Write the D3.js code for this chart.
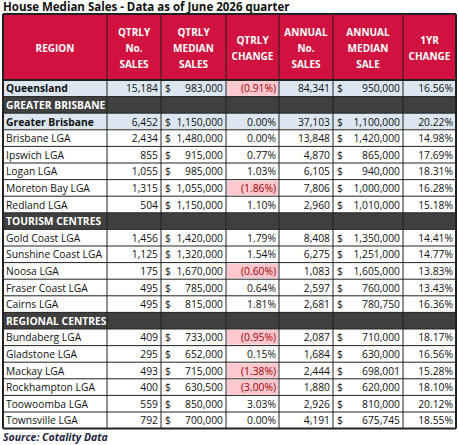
<!DOCTYPE html>
<html><head><meta charset="utf-8">
<script src="https://cdn.jsdelivr.net/npm/d3@7"></script>
<style>body{margin:0;background:#fff}</style></head>
<body><svg id="c" width="459" height="445"></svg>
<script>
const headers = [["REGION"],["QTRLY","No.","SALES"],["QTRLY","MEDIAN","SALES"],["QTRLY","CHANGE"],["ANNUAL","No.","SALES"],["ANNUAL","MEDIAN","SALE"],["1YR","CHANGE"]];
// type: t = total row, s = section header, r = regular
const regions = ["Queensland","GREATER BRISBANE","Greater Brisbane","Brisbane LGA","Ipswich LGA","Logan LGA","Moreton Bay LGA","Redland LGA","TOURISM CENTRES","Gold Coast LGA","Sunshine Coast LGA","Noosa LGA","Fraser Coast LGA","Cairns LGA","REGIONAL CENTRES","Bundaberg LGA","Gladstone LGA","Mackay LGA","Rockhampton LGA","Toowoomba LGA","Townsville LGA"];
const rowTypes = ["t","s","t","r","r","r","r","r","s","r","r","r","r","r","s","r","r","r","r","r","r"];
const qtrSales = [15184,null,6452,2434,855,1055,1315,504,null,1456,1125,175,495,495,null,409,295,493,400,559,792];
const qtrMedian = [983000,null,1150000,1480000,915000,985000,1055000,1150000,null,1420000,1320000,1670000,785000,815000,null,733000,652000,715000,630500,850000,700000];
const qtrChange = [-0.91,null,0.00,0.00,0.77,1.03,-1.86,1.10,null,1.79,1.54,-0.60,0.64,1.81,null,-0.95,0.15,-1.38,-3.00,3.03,0.00];
const annSales = [84341,null,37103,13848,4870,6105,7806,2960,null,8408,6275,1083,2597,2681,null,2087,1684,2444,1880,2926,4191];
const annMedian = [950000,null,1100000,1420000,865000,940000,1000000,1010000,null,1350000,1251000,1605000,760000,780750,null,710000,630000,698001,620000,810000,675745];
const yrChange = [16.56,null,20.22,14.98,17.69,18.31,16.28,15.18,null,14.41,14.77,13.83,13.43,16.36,null,18.17,16.56,15.28,18.10,20.12,18.55];

const svg = d3.select("#c");
const font = "'Open Sans', sans-serif";
const colEdges = [3,107,161,226,279,333,403,456];
const headTop = 14, headBot = 80, rowH = 16.6;
const y = d3.scaleLinear().domain([0,21]).range([headBot, headBot+21*rowH]);
const fmtN = d3.format(",");
const fmtP = v => v < 0 ? "(" + d3.format(".2f")(-v) + "%)" : d3.format(".2f")(v) + "%";

svg.append("text").attr("x",3).attr("y",11).attr("font-family",font).attr("font-weight","bold").attr("font-size",11.5).attr("fill","#111").text("House Median Sales - Data as of June 2026 quarter");

svg.append("rect").attr("x",3).attr("y",headTop).attr("width",453).attr("height",headBot-headTop).attr("fill","#d1113f");
headers.forEach((h,i)=>{
  const cx=(colEdges[i]+colEdges[i+1])/2, cy=(headTop+headBot)/2+1;
  h.forEach((l,j)=>{
    svg.append("text").attr("x",cx).attr("y",cy+(j-(h.length-1)/2)*16+4).attr("text-anchor","middle")
      .attr("font-family",font).attr("font-weight","bold").attr("font-size",10).attr("fill","#fff").text(l);
  });
});

regions.forEach((r,i)=>{
  const t=rowTypes[i], y0=y(i), y1=y(i+1), ty=(y0+y1)/2+4;
  const bg = t==="t"?"#dce6f1":t==="s"?"#404040":"#fff";
  svg.append("rect").attr("x",3).attr("y",y0).attr("width",453).attr("height",rowH).attr("fill",bg);
  svg.append("text").attr("x",colEdges[0]+3).attr("y",ty).attr("font-family",font).attr("font-size",10.3)
    .attr("font-weight",t==="r"?"normal":"bold").attr("fill",t==="s"?"#fff":"#111").text(r);
  if(t==="s") return;
  const txt=(ci,s,col="#111")=>svg.append("text").attr("x",colEdges[ci+1]-3).attr("y",ty).attr("text-anchor","end")
      .attr("font-family",font).attr("font-size",10.3).attr("fill",col).text(s);
  const dollar=(ci)=>svg.append("text").attr("x",colEdges[ci]+4).attr("y",ty).attr("font-family",font).attr("font-size",10.3).attr("fill","#111").text("$");
  txt(1,fmtN(qtrSales[i]));
  dollar(2); txt(2,fmtN(qtrMedian[i]));
  if(qtrChange[i]<0){
    svg.append("rect").attr("x",colEdges[3]+1).attr("y",y0+1).attr("width",colEdges[4]-colEdges[3]-2).attr("height",rowH-2).attr("fill","#ffc7ce");
    txt(3,fmtP(qtrChange[i]),"#9c0006");
  } else txt(3,fmtP(qtrChange[i]));
  txt(4,fmtN(annSales[i]));
  dollar(5); txt(5,fmtN(annMedian[i]));
  txt(6,fmtP(yrChange[i]));
});

const bottom=y(21);
colEdges.forEach((x,i)=>svg.append("line").attr("x1",x).attr("x2",x).attr("y1",headTop).attr("y2",bottom)
  .attr("stroke","#222").attr("stroke-width",(i===0||i===colEdges.length-1)?2:1));
d3.range(22).forEach(i=>svg.append("line").attr("x1",3).attr("x2",456).attr("y1",y(i)).attr("y2",y(i)).attr("stroke","#222").attr("stroke-width",(i===0||i===21)?2:1));
svg.append("line").attr("x1",3).attr("x2",456).attr("y1",headTop).attr("y2",headTop).attr("stroke","#222").attr("stroke-width",2);

svg.append("text").attr("x",3).attr("y",bottom+12).attr("font-family",font).attr("font-weight","bold").attr("font-style","italic").attr("font-size",10.5).attr("fill","#1f2440").text("Source: Cotality Data");
</script></body></html>
